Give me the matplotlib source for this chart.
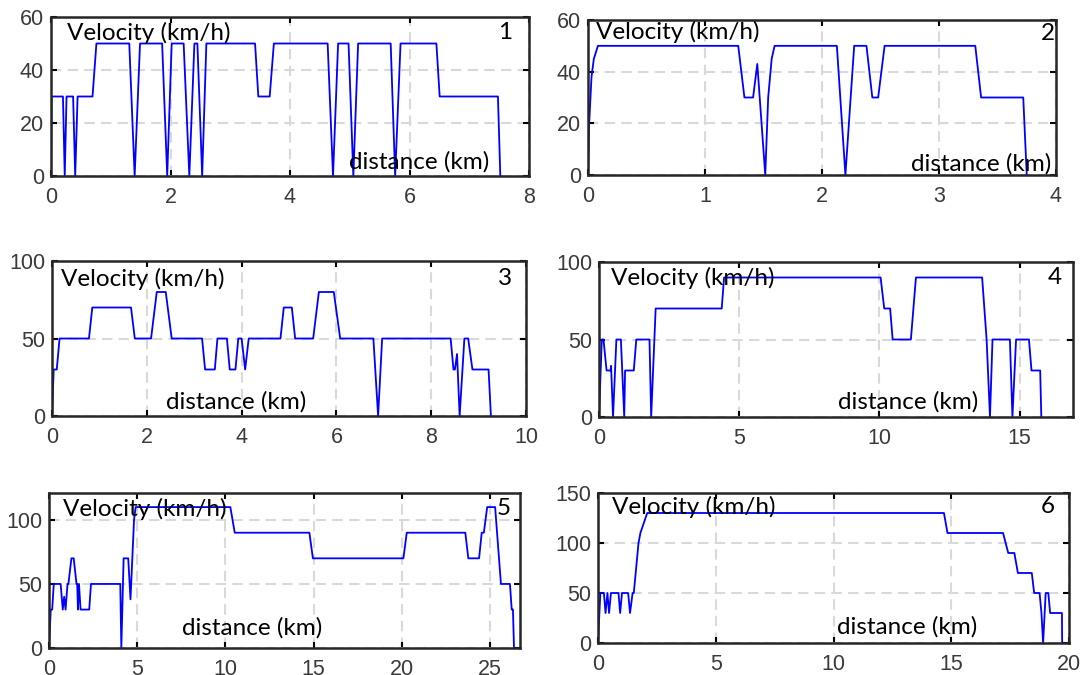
import matplotlib.pyplot as plt
import numpy as np

# route 1
d1 = [0, 0.01, 0.20, 0.23, 0.26, 0.37, 0.405, 0.445, 0.695, 0.76, 1.31, 1.40, 1.49, 1.86, 1.945,
      2.02, 2.22, 2.315, 2.40, 2.45, 2.53, 2.60, 3.415, 3.47, 3.66, 3.73, 4.63, 4.72, 4.805,
      4.98, 5.06, 5.14, 5.685, 5.76, 5.85, 6.45, 6.505, 7.48, 7.52]
v1 = [0, 30, 30, 0, 30, 30, 0, 30, 30, 50, 50, 0, 50, 50, 0,
      50, 50, 0, 50, 50, 0, 50, 50, 30, 30, 50, 50, 0, 50,
      50, 0, 50, 50, 0, 50, 50, 30, 30, 0]

# route 2
d2 = [0, 0.01, 0.03, 0.05, 0.085, 1.284, 1.337, 1.411, 1.447, 1.515, 1.54, 1.57, 1.595,
      2.127, 2.20, 2.275, 2.38, 2.43, 2.48, 2.535, 3.31, 3.36, 3.72, 3.75]
v2 = [0, 20, 38, 45, 50, 50, 30, 30, 43, 0, 30, 45, 50,
      50, 0, 50, 50, 30, 30, 50, 50, 30, 30, 0]

# route 3
d3 = [0, 0.036, 0.10, 0.16, 0.78, 0.85, 1.667, 1.747, 2.09, 2.21, 2.40, 2.525, 3.166, 3.23,
      3.435, 3.49, 3.69, 3.75, 3.87, 3.93, 4.0, 4.075, 4.15, 4.82, 4.89, 5.06, 5.13, 5.51,
      5.63, 5.945, 6.08, 6.78, 6.88, 6.965, 8.41, 8.47, 8.50, 8.545, 8.60, 8.70, 8.78, 8.87,
      9.21, 9.26]
v3 = [0, 30, 30, 50, 50, 70, 70, 50, 50, 80, 80, 50, 50, 30,
      30, 50, 50, 30, 30, 50, 50, 30, 50, 50, 70, 70, 50, 50,
      80, 80, 50, 50, 0, 50, 50, 30, 30, 40, 0, 50, 50, 30,
      30, 0]

# route 4
d4 = [0, 0.10, 0.16, 0.27, 0.41, 0.43, 0.50, 0.62, 0.78, 0.90, 0.93, 1.24, 1.33, 1.80, 1.86,
      2.02, 4.375, 4.46, 10.04, 10.17, 10.38, 10.47, 11.12, 11.30, 13.66, 13.82, 13.94,
      14.03, 14.65, 14.74, 14.87, 15.33, 15.42, 15.73, 15.77]
v4 = [0, 50, 50, 30, 30, 33, 0, 50, 50, 0, 30, 30, 50, 50, 0,
      70, 70, 90, 90, 70, 70, 50, 50, 90, 90, 50, 0,
      50, 50, 0, 50, 50, 30, 30, 0]

# route 5
d5 = [0, 0.10, 0.18, 0.27, 0.66, 0.78, 0.86, 0.94, 1.05, 1.10, 1.27, 1.40, 1.56, 1.60, 1.64,
      1.70, 1.79, 2.28, 2.38, 4.04, 4.10, 4.23, 4.49, 4.62, 4.82, 4.91, 10.28, 10.53, 14.76,
      14.96, 20.09, 20.28, 23.60, 23.77, 24.38, 24.53, 24.65, 24.84, 25.29, 25.62, 26.13,
      26.23, 26.30, 26.36]
v5 = [0, 30, 30, 50, 50, 30, 40, 30, 50, 50, 70, 70, 50, 50, 30,
      50, 30, 30, 50, 50, 0, 70, 70, 38, 100, 110, 110, 90, 90,
      70, 70, 90, 90, 70, 70, 90, 90, 110, 110, 50, 50,
      30, 30, 0]

# route 6
d6 = [0, 0.10, 0.25, 0.32, 0.40, 0.47, 0.55, 0.87, 0.94, 1.02, 1.28, 1.36, 1.47, 1.52, 1.72,
      1.80, 2.09, 14.69, 14.84, 17.20, 17.42, 17.68, 17.83, 18.42, 18.52, 18.75, 18.83, 18.90,
      19.01, 19.12, 19.20, 19.70, 19.71]
v6 = [0, 50, 50, 30, 50, 30, 50, 50, 30, 50, 50, 30, 50, 50, 100,
      110, 130, 130, 110, 110, 90, 90, 70, 70, 50, 50, 30, 0,
      50, 50, 30, 30, 0]

routes = [(d1, v1), (d2, v2), (d3, v3), (d4, v4), (d5, v5), (d6, v6)]
xlims = [(0, 8), (0, 4), (0, 10), (0, 16.9), (0, 26.7), (0, 20)]
ylims = [(0, 60), (0, 60), (0, 100), (0, 100), (0, 121), (0, 150)]
xticks = [[0, 2, 4, 6, 8], [0, 1, 2, 3, 4], [0, 2, 4, 6, 8, 10], [0, 5, 10, 15],
          [0, 5, 10, 15, 20, 25], [0, 5, 10, 15, 20]]
yticks = [[0, 20, 40, 60], [0, 20, 40, 60], [0, 50, 100], [0, 50, 100],
          [0, 50, 100], [0, 50, 100, 150]]

# axes boxes in pixels: left, top, right, bottom
boxes = [(51, 17, 529, 176), (588, 20, 1056, 175), (52, 261, 526, 416),
         (599, 262, 1073, 417), (49, 493, 520, 648), (598, 493, 1069, 643)]
# label positions in axes fractions
vel_pos = [(0.034, 0.90), (0.018, 0.92), (0.02, 0.885), (0.026, 0.90), (0.029, 0.90), (0.029, 0.91)]
dist_pos = [(0.624, 0.09), (0.691, 0.07), (0.24, 0.09), (0.505, 0.10), (0.283, 0.13), (0.508, 0.11)]
num_pos = [(0.951, 0.90), (0.982, 0.91), (0.956, 0.885), (0.961, 0.90), (0.966, 0.90), (0.954, 0.91)]

W, H = 1084, 675
fig = plt.figure(figsize=(W / 100, H / 100), dpi=100)

for i, (d, v) in enumerate(routes):
    l, t, r, b = boxes[i]
    ax = fig.add_axes([l / W, 1 - b / H, (r - l) / W, (b - t) / H])
    ax.plot(d, v, color='#0000ff', lw=1.3)
    ax.set_xlim(*xlims[i])
    ax.set_ylim(*ylims[i])
    ax.set_xticks(xticks[i])
    ax.set_yticks(yticks[i])
    ax.grid(True, ls=(0, (5, 3)), color='#d9d9d9', lw=1.5)
    ax.tick_params(direction='in', top=True, right=True, length=4, width=1.5,
                   labelsize=15.5, labelcolor='#3a3a3a', pad=5)
    ax.tick_params(axis='x', pad=8)
    for lab in ax.get_xticklabels() + ax.get_yticklabels():
        lab.set_family(['Liberation Sans', 'DejaVu Sans'])
    for s in ax.spines.values():
        s.set_linewidth(1.8)
        s.set_color('#262626')
    txt = dict(transform=ax.transAxes, fontsize=17.5, family=['Lato', 'DejaVu Sans'], va='center')
    ax.text(*vel_pos[i], 'Velocity (km/h)', ha='left', **txt)
    ax.text(*dist_pos[i], 'distance (km)', ha='left', **txt)
    ax.text(*num_pos[i], str(i + 1), ha='center', **txt)

fig.savefig('out.png', dpi=100)
